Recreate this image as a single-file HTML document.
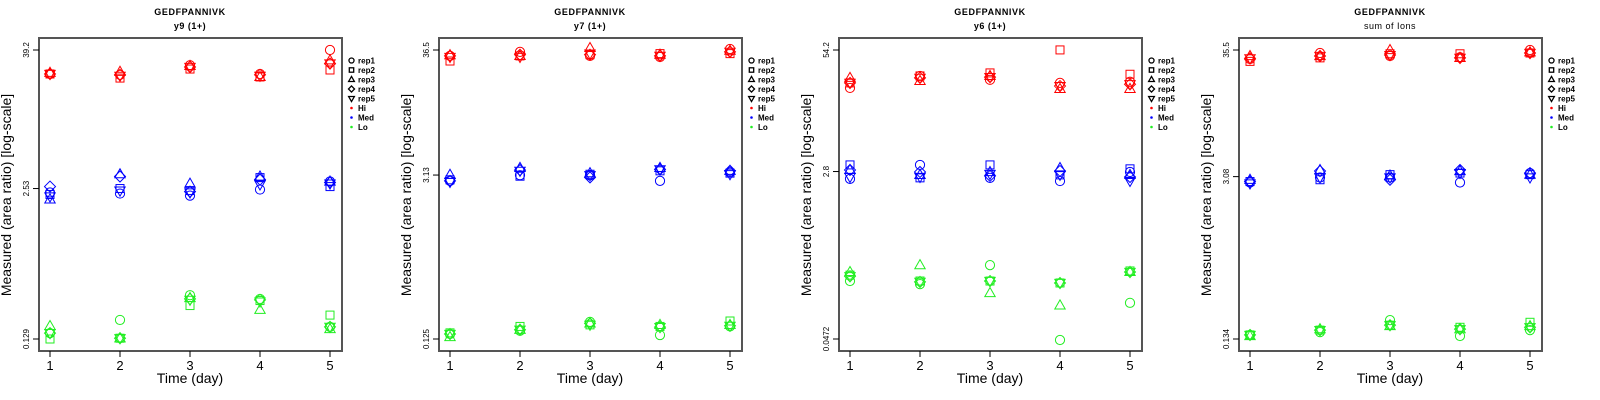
<!DOCTYPE html>
<html><head><meta charset="utf-8">
<style>
html,body{margin:0;padding:0;background:#fff;}
svg{display:block;font-family:"Liberation Sans",sans-serif;}
</style></head>
<body>
<svg id="chart" width="1600" height="400" viewBox="0 0 1600 400" xmlns="http://www.w3.org/2000/svg"></svg>
<script>
// ---- data ----
const days = [1, 2, 3, 4, 5];
const reps = ["rep1", "rep2", "rep3", "rep4", "rep5"];
const levels = ["Hi", "Med", "Lo"];
const panelTitles = ["y9 (1+)", "y7 (1+)", "y6 (1+)", "sum of Ions"];
const tickLabels1 = ["0.129", "2.53", "39.2"];
const tickLabels2 = ["0.125", "3.13", "36.5"];
const tickLabels3 = ["0.0472", "2.8", "54.2"];
const tickLabels4 = ["0.134", "3.08", "35.5"];
// values[day][rep]
const p1Hi = [[24.4,24.4,25,24.4,24.4],[24,22.5,25.5,24,23.5],[29,26.9,28.6,28,28],[24.4,23,23,24,23.5],[39.2,26.4,32,30,30]];
const p1Med = [[2.34,2.25,2.04,2.63,2.16],[2.29,2.53,3.36,3.21,2.43],[2.2,2.43,2.79,2.38,2.34],[2.48,3.14,3.21,3.02,2.74],[2.91,2.63,2.91,2.85,2.79]];
const p1Lo = [[0.145,0.129,0.167,0.145,0.145],[0.188,0.131,0.131,0.131,0.131],[0.307,0.25,0.29,0.285,0.28],[0.285,0.276,0.23,0.28,0.27],[0.164,0.207,0.157,0.164,0.164]];
const p2Hi = [[32.5,29.4,33,32.5,31.8],[35.2,32.5,32.5,33.3,31.8],[32.5,33.3,38,33.3,34],[31.8,34,33.3,32.5,32.5],[37.2,34,36,35.2,35.2]];
const p2Med = [[2.79,2.85,3.15,2.79,2.73],[3.12,3.06,3.6,3.45,3.4],[3.12,3.18,3.25,2.99,3.12],[2.79,3.4,3.6,3.5,3.5],[3.3,3.25,3.4,3.4,3.18]];
const p2Lo = [[0.138,0.141,0.13,0.138,0.138],[0.147,0.16,0.15,0.15,0.15],[0.175,0.165,0.17,0.17,0.165],[0.135,0.16,0.165,0.158,0.158],[0.16,0.178,0.165,0.162,0.162]];
const p3Hi = [[21.5,24.3,27.5,24.3,24.3],[28.8,28.8,25.5,27.5,27.5],[26.2,31,28.8,28,28],[24.3,54.3,21,22.5,22.5],[25,30,21,23.5,23.5]];
const p3Med = [[2.34,3.29,2.91,2.91,2.45],[3.29,2.4,2.58,2.77,2.45],[2.4,3.29,2.77,2.52,2.64],[2.22,2.58,3.05,2.84,2.58],[2.77,2.99,2.58,2.45,2.22]];
const p3Lo = [[0.194,0.224,0.242,0.218,0.218],[0.18,0.194,0.286,0.19,0.19],[0.286,0.194,0.145,0.194,0.194],[0.0461,0.185,0.107,0.185,0.185],[0.114,0.248,0.242,0.242,0.242]];
const p4Hi = [[29.8,28.5,31.6,30.2,30.2],[33.5,30.5,31.6,31.6,31.6],[31.6,33,35.5,32.2,32.2],[30.9,33,30.5,30.5,30.5],[35.5,33.5,34,33.5,33.5]];
const p4Med = [[2.75,2.8,2.9,2.8,2.7],[3.03,2.9,3.5,3.43,3.03],[3.03,3.2,3.15,2.9,3.03],[2.75,3.3,3.43,3.5,3.3],[3.3,3.2,3.2,3.3,3.03]];
const p4Lo = [[0.145,0.145,0.142,0.145,0.145],[0.153,0.159,0.162,0.159,0.159],[0.193,0.175,0.172,0.175,0.175],[0.142,0.168,0.162,0.162,0.162],[0.159,0.185,0.172,0.168,0.168]];

const panels = [
  {ticks: tickLabels1, series: [p1Hi, p1Med, p1Lo]},
  {ticks: tickLabels2, series: [p2Hi, p2Med, p2Lo]},
  {ticks: tickLabels3, series: [p3Hi, p3Med, p3Lo]},
  {ticks: tickLabels4, series: [p4Hi, p4Med, p4Lo]}
];
const colors = ["#ff0000", "#0000ff", "#22ee22"];

const NS = "http://www.w3.org/2000/svg";
const svg = document.getElementById("chart");
function mk(tag, attrs, parent) {
  const e = document.createElementNS(NS, tag);
  for (const k in attrs) e.setAttribute(k, attrs[k]);
  parent.appendChild(e);
  return e;
}
function marker(g, shape, cx, cy, color, s) {
  let e;
  if (shape === 0) e = mk("circle", {cx: cx, cy: cy, r: 4.6 * s}, g);
  else if (shape === 1) e = mk("rect", {x: cx - 4 * s, y: cy - 4 * s, width: 8 * s, height: 8 * s}, g);
  else if (shape === 2) e = mk("polygon", {points: `${cx},${cy - 5.5 * s} ${cx - 5.2 * s},${cy + 3.6 * s} ${cx + 5.2 * s},${cy + 3.6 * s}`}, g);
  else if (shape === 3) e = mk("polygon", {points: `${cx},${cy - 5.5 * s} ${cx + 5.5 * s},${cy} ${cx},${cy + 5.5 * s} ${cx - 5.5 * s},${cy}`}, g);
  else e = mk("polygon", {points: `${cx},${cy + 5.5 * s} ${cx - 5.2 * s},${cy - 3.6 * s} ${cx + 5.2 * s},${cy - 3.6 * s}`}, g);
  e.setAttribute("fill", "none");
  e.setAttribute("stroke", color);
  e.setAttribute("stroke-width", s < 1 ? 1.3 : 1);
  return e;
}

panels.forEach((p, pi) => {
  const ox = pi * 400;
  const g = mk("g", {}, svg);
  
  
  const L = ox + 39, R = ox + 342, T = 38, B = 351;
  const lo = Math.log10(parseFloat(p.ticks[0])), hi = Math.log10(parseFloat(p.ticks[2]));
  const yS = v => 339 - (Math.log10(v) - lo) / (hi - lo) * 289;
  const xS = d => ox + 50 + (d - 1) * 70;

  const t1 = mk("text", {x: ox + 190, y: 15, "text-anchor": "middle", "font-size": 9, "font-weight": "bold", "letter-spacing": "0.6"}, g);
  t1.textContent = "GEDFPANNIVK";
  
  
  const t2 = mk("text", {x: ox + 190, y: 29, "text-anchor": "middle", "font-size": 9, "font-weight": pi === 3 ? "normal" : "bold", "letter-spacing": "0.5"}, g);
  t2.textContent = panelTitles[pi];
  
  

  const box = mk("rect", {x: L, y: T, width: R - L, height: B - T, fill: "none", stroke: "#555", "stroke-width": 2}, g);
  
  

  days.forEach(d => {
    mk("line", {x1: xS(d), x2: xS(d), y1: B, y2: B + 6, stroke: "#000", "stroke-width": 1}, g);
    const tl = mk("text", {x: xS(d), y: 370, "text-anchor": "middle", "font-size": 13}, g);
    tl.textContent = d;
    
    
  });
  p.ticks.forEach(t => {
    const y = yS(parseFloat(t));
    mk("line", {x1: L - 6, x2: L, y1: y, y2: y, stroke: "#000", "stroke-width": 1}, g);
    const tl = mk("text", {x: 0, y: 0, "text-anchor": "middle", "font-size": 8, transform: `translate(${ox + 29},${y}) rotate(-90)`}, g);
    tl.textContent = t;
    
    
  });
  const xl = mk("text", {x: ox + 190, y: 383, "text-anchor": "middle", "font-size": 14}, g);
  xl.textContent = "Time (day)";
  
  
  const yl = mk("text", {x: 0, y: 0, "text-anchor": "middle", "font-size": 14, transform: `translate(${ox + 11},195) rotate(-90)`}, g);
  yl.textContent = "Measured (area ratio) [log-scale]";
  
  

  p.series.forEach((ser, li) => {
    const sg = mk("g", {}, g);
    
    
    ser.forEach((row, di) => {
      row.forEach((v, ri) => {
        const m = marker(sg, ri, xS(days[di]), yS(v), colors[li], 1);
        
        
      });
    });
  });

  const lg = mk("g", {}, g);
  
  
  const entries = reps.concat(levels);
  entries.forEach((name, i) => {
    const y = 60.5 + i * 9.5;
    if (i < 5) marker(lg, i, ox + 351.5, y, "#000", 0.55);
    else mk("circle", {cx: ox + 351.5, cy: y, r: 1.3, fill: colors[i - 5]}, lg);
    const tx = mk("text", {x: ox + 358, y: y + 3, "font-size": 8, "font-weight": "bold"}, lg);
    tx.textContent = name;
    
    
  });
});
</script>
</body></html>
